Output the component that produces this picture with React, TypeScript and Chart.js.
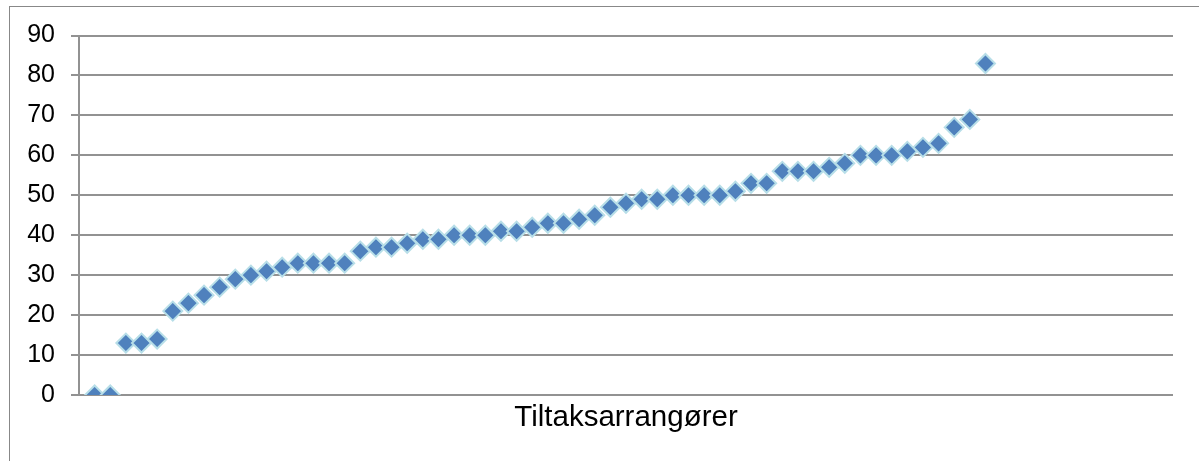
import { useEffect, useRef } from 'react';
import { Chart, registerables } from 'chart.js';

Chart.register(...registerables);

const xAxisLabel = 'Tiltaksarrangører';
const yTicks = [0, 10, 20, 30, 40, 50, 60, 70, 80, 90];
const xRange = [0, 70];
const scores = [
  0, 0, 13, 13, 14, 21, 23, 25, 27, 29,
  30, 31, 32, 33, 33, 33, 33, 36, 37, 37,
  38, 39, 39, 40, 40, 40, 41, 41, 42, 43,
  43, 44, 45, 47, 48, 49, 49, 50, 50, 50,
  50, 51, 53, 53, 56, 56, 56, 57, 58, 60,
  60, 60, 61, 62, 63, 67, 69, 83,
];

export default function App() {
  const ref = useRef<HTMLCanvasElement>(null);

  useEffect(() => {
    if (!ref.current) return;
    const chart = new Chart(ref.current, {
      type: 'scatter',
      data: {
        datasets: [
          {
            data: scores.map((v, i) => ({ x: i + 1, y: v })),
            pointStyle: 'rectRot',
            pointRadius: 9.5,
            pointHoverRadius: 9.5,
            backgroundColor: '#4F81BD',
            borderColor: '#B7DEE8',
            borderWidth: 2,
            pointHoverBorderWidth: 2,
          },
        ],
      },
      options: {
        animation: false,
        responsive: true,
        maintainAspectRatio: false,
        layout: { padding: { top: 28, right: 26, bottom: 25, left: 0 } },
        plugins: { legend: { display: false }, tooltip: { enabled: false } },
        scales: {
          x: {
            type: 'linear',
            min: xRange[0],
            max: xRange[1],
            ticks: { display: false },
            grid: { display: false, drawTicks: false },
            border: { display: false },
            title: {
              display: true,
              text: xAxisLabel,
              color: '#000',
              font: { family: 'Liberation Sans', size: 29.5 },
              padding: { top: 7, bottom: 0 },
            },
            afterFit: (s: any) => {
              s.height = 41;
            },
          },
          y: {
            min: yTicks[0],
            max: yTicks[yTicks.length - 1],
            afterBuildTicks: (s: any) => {
              s.ticks = yTicks.map((v) => ({ value: v }));
            },
            ticks: {
              color: '#000',
              font: { family: 'Liberation Sans', size: 25, lineHeight: 1 },
              padding: 16,
            },
            grid: { color: '#929292', lineWidth: 2, tickLength: 8 },
            border: { color: '#929292', width: 2 },
            afterFit: (s: any) => {
              s.width = 69;
            },
          },
        },
      },
    });
    return () => chart.destroy();
  }, []);

  return (
    <div
      style={{
        position: 'absolute',
        left: 9,
        top: 6,
        width: 1190,
        height: 455,
        borderLeft: '1px solid #888',
        borderTop: '1px solid #888',
        boxSizing: 'border-box',
      }}
    >
      <canvas ref={ref} />
    </div>
  );
}
